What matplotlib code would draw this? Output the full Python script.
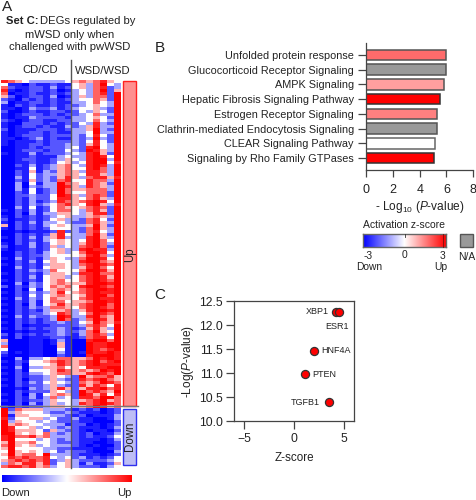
import numpy as np
import matplotlib
matplotlib.use("Agg")
import matplotlib.pyplot as plt
from matplotlib.colors import LinearSegmentedColormap
from matplotlib.patches import Rectangle

plt.rcParams['font.family'] = ['Liberation Sans', 'DejaVu Sans']
plt.rcParams['mathtext.fontset'] = 'custom'
plt.rcParams['mathtext.rm'] = 'Liberation Sans'
plt.rcParams['mathtext.it'] = 'Liberation Sans:italic'

W, H = 477, 500
TXT = '#222222'
AX = '#444444'

# digits: 0 full blue, 4 white, 8 full red; 10 CD/CD columns + 7 WSD/WSD columns
heat_up = [
    "76543333345656754", "41102112114536843", "62112213124536723", "71012212013436825",
    "60112112123436728", "52012213013536628", "21021212123446528", "30112212113346438",
    "10212112122345438", "11013223123445328", "20012112212435428", "10122212122346338",
    "10113222213345428", "21012211223346438", "10022212122437328", "10122121132357338",
    "20111222123358328", "10112212113348338", "10122212223247428", "11012312113238328",
    "10111212223247428", "10112212233257438", "00112122234278438", "00122212243287538",
    "10113122234378528", "00112111343378748", "00122112354378838", "00112112453478847",
    "00213123564378738", "00114123564478638", "00215132565377638", "00214233565477538",
    "00314232575367757", "00215232674476638", "00304133865476528", "00303233875376538",
    "00314123865566638", "00214123864466628", "00223224875367628", "00213224775467538",
    "00213123765678748", "00213234675478537", "00314124654567628", "10213124664367528",
    "00203133554357728", "10212123453356538", "20112124533267428", "10213133432267538",
    "50212134543358528", "10212124443268538", "00101112723267438", "00212125743368528",
    "10213135733378538", "00212134543478648", "10213124543578638", "20113125343678628",
    "10112124533787738", "00212134534688748", "00212234444578638", "10312135433688748",
    "00213145443788658", "10212135543678768", "00312145543578648", "00213236444688758",
    "10212135543778668", "00213145534678758", "10212145644678768", "00303245655578878",
    "20213246564788768", "00204145654678878", "10213235745678778", "00214245654578868",
    "10313246554678778", "00213146645568878", "10203145755678868", "00213236654678768",
    "10212135563578878", "00212234763468768", "10313223873378658", "00212123862368758",
    "10212122322458657", "00201112222367648", "10212122321257538", "00101112322368548",
    "20212122321367638", "10201112211267748", "50001101310078868", "30001101510087788",
    "60001100510087788", "40001100410087678", "20101100310187787", "10001100210078887",
    "00303345665568787", "10214456765678678", "00204445765678777", "10303355645477788",
    "00204445765656878", "10213345665578768", "00212235432856675", "10202235322767865",
    "00213245432656876", "10212235322757647", "00103235752577867", "00212225432867658",
    "10203145652875747", "00213136342776886", "10212235443567856", "00203135343767876",
    "10212235543568756",
]
heat_down = [
    "82655533321212012", "83544432232111012", "81554443321201113", "72445534223110013",
    "83544343222110002", "85654433312201012", "87445343232111013", "87555425322101102",
    "88545463232120113", "78667563332121124", "78444343232111013", "58556443222110012",
    "68545343332101002", "58444433221110012", "48545434232210003", "58566483332111012",
    "47676674342312124", "56767672353222234", "36577572453131125", "67767563453222134",
]
# panel B
pathways = ["Unfolded protein response", "Glucocorticoid Receptor Signaling", "AMPK Signaling",
            "Hepatic Fibrosis Signaling Pathway", "Estrogen Receptor Signaling",
            "Clathrin-mediated Endocytosis Signaling", "CLEAR Signaling Pathway",
            "Signaling by Rho Family GTPases"]
log_p = [5.94, 5.94, 5.85, 5.5, 5.33, 5.27, 5.15, 5.1]
bar_colors = ['#ff6b6b', '#999999', '#ff9f9f', '#ff0000', '#ff8080', '#999999', '#ffffff', '#ff0000']
bar_edges = ['#555555', '#555555', '#555555', '#333333', '#555555', '#555555', '#666666', '#333333']
# panel C
genes = ["XBP1", "ESR1", "HNF4A", "PTEN", "TGFB1"]
z_scores = [4.2, 4.5, 2.0, 1.1, 3.5]
p_values = [12.28, 12.28, 11.47, 10.98, 10.41]

fig = plt.figure(figsize=(W / 100, H / 100), dpi=100)
bwr = LinearSegmentedColormap.from_list('bwr2', ['#0000ff', '#ffffff', '#ff0000'])
heat_cmap = LinearSegmentedColormap.from_list(
    'heat', [(0, '#0000ff'), (0.125, '#2020ff'), (0.25, '#5656ff'), (0.375, '#a4a4ff'), (0.5, '#ffffff'),
             (0.625, '#ffb4b4'), (0.75, '#ff6464'), (0.875, '#ff2020'), (1, '#ff0000')])


def axpx(x0, y0, x1, y1, **kw):
    return fig.add_axes([x0 / W, 1 - y1 / H, (x1 - x0) / W, (y1 - y0) / H], **kw)


bg = axpx(0, 0, W, H)
bg.set_xlim(0, W)
bg.set_ylim(H, 0)
bg.axis('off')


def t(x, y, s, size=7.7, ha='center', va='center', **kw):
    kw.setdefault('color', TXT)
    bg.text(x, y, s, fontsize=size, ha=ha, va=va, **kw)


# panel letters
t(2, 7, 'A', 11, ha='left')
t(155, 48, 'B', 11, ha='left')
t(154, 295, 'C', 11, ha='left')

# panel A heading
t(6, 21, 'Set C:', 8.1, ha='left', fontweight='bold')
t(40.5, 21, 'DEGs regulated by', 8.1, ha='left')
t(70, 34.5, 'mWSD only when', 8.1)
t(70, 47.5, 'challenged with pwWSD', 8.1)
t(40, 70, 'CD/CD', 8.1)
t(103, 71, 'WSD/WSD', 8.1)

# heatmap
matrix = np.array([[int(c) for c in r] for r in heat_up + heat_down], dtype=float)
hx = axpx(1, 79.7, 120.5, 467.6)
hx.imshow(matrix, cmap=heat_cmap, vmin=0, vmax=8, aspect='auto', interpolation='nearest')
hx.axis('off')

bg.set_zorder(3)
bg.patch.set_alpha(0)
bg.plot([71.2, 71.2], [60, 467.6], color='#555555', lw=1)
bg.plot([0, 138], [406.3, 406.3], color='#777777', lw=1)

# side boxes
bg.add_patch(Rectangle((123.3, 80.5), 13, 325, fc='#ff8f8f', ec='#ff2020', lw=1))
bg.add_patch(Rectangle((123.3, 409), 13, 56, fc='#bdbdf5', ec='#3030ee', lw=1))
t(130, 255, 'Up', 8.3, rotation=90)
t(130, 436, 'Down', 8.3, rotation=90)

# bottom gradient
grad = np.linspace(0, 1, 256).reshape(1, -1)
gx = axpx(1.5, 475, 131, 482)
gx.imshow(grad, cmap=bwr, aspect='auto')
gx.axis('off')
t(1, 493, 'Down', 8.1, ha='left')
t(132, 493, 'Up', 8.1, ha='right')

# panel B
bx = axpx(366.5, 43, 473, 170)
ypos = np.arange(len(pathways))
bx.barh(ypos, log_p, height=0.72, color=bar_colors, edgecolor=bar_edges, linewidth=1.1)
bx.set_xlim(0, 8)
bx.set_ylim(7.82, -0.82)
bx.set_yticks(ypos)
bx.set_yticklabels(pathways, fontsize=7.85, color=TXT)
bx.set_xticks([0, 2, 4, 6, 8])
bx.tick_params(axis='x', labelsize=9, length=5, width=0.9, color=AX, labelcolor=TXT, pad=5)
bx.tick_params(axis='y', length=6, width=0.9, color=AX, pad=3)
for s in ('top', 'right'):
    bx.spines[s].set_visible(False)
for s in ('left', 'bottom'):
    bx.spines[s].set_color(AX)
    bx.spines[s].set_linewidth(0.9)
t(420, 207, r'- Log$_{10}$ ($\mathit{P}$-value)', 8.6)

# activation legend
t(404.5, 225, 'Activation z-score', 7.5)
cx = axpx(363.5, 234, 446, 247)
cx.imshow(grad, cmap=bwr, aspect='auto')
cx.set_xticks([])
cx.set_yticks([])
for s in cx.spines.values():
    s.set_color('#666666')
    s.set_linewidth(1)
bg.plot([405, 405], [234, 237], color='#333333', lw=0.6)
bg.plot([443, 443], [234, 247], color='#8a1010', lw=0.7)
bg.add_patch(Rectangle((460.3, 234.3), 12.5, 12.7, fc='#999999', ec='#555555', lw=1))
t(368, 256, '-3', 7.4)
t(405, 255.5, '0', 7.4)
t(442.5, 256, '3', 7.4)
t(369, 266.5, 'Down', 7.4)
t(441, 266.5, 'Up', 7.4)
t(467, 256.5, 'N/A', 7.4)

# panel C
sx = axpx(234.3, 301, 354, 421.3)
sx.scatter(z_scores, p_values, s=34, color='#ff0000', edgecolor='#333333', linewidth=0.9, zorder=3)
sx.set_xlim(-6, 6)
sx.set_ylim(10, 12.5)
sx.set_xticks([-5, 0, 5])
sx.set_yticks([10, 10.5, 11, 11.5, 12, 12.5])
sx.set_yticklabels(['10.0', '10.5', '11.0', '11.5', '12.0', '12.5'])
sx.tick_params(labelsize=8.7, length=5.5, width=0.9, color=AX, labelcolor=TXT, pad=3)
for s in sx.spines.values():
    s.set_color(AX)
    s.set_linewidth(0.9)
label_offset = {"XBP1": (-0.7, 0.0, 'right'), "ESR1": (1.0, -0.32, 'right'),
                "HNF4A": (0.7, 0.0, 'left'), "PTEN": (0.7, 0.0, 'left'), "TGFB1": (-0.9, -0.01, 'right')}
for g, zv, pv in zip(genes, z_scores, p_values):
    dx, dy, ha = label_offset[g]
    sx.text(zv + dx, pv + dy, g, fontsize=6.5, ha=ha, va='center', color=TXT)
sx.set_xlabel('Z-score', fontsize=8.4, color=TXT, labelpad=5)
sx.set_ylabel(r'-Log($\mathit{P}$-value)', fontsize=8.6, color=TXT, labelpad=2)

fig.savefig('out.png', dpi=100)
